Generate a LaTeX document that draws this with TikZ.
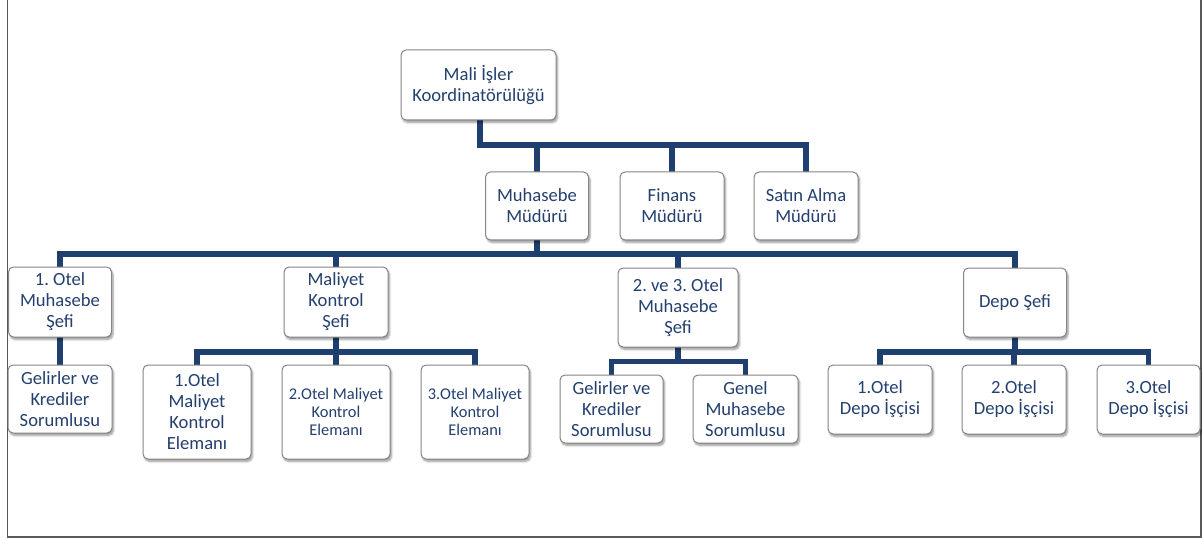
\documentclass[tikz,border=0pt]{standalone}
\usepackage{fontspec}
\setmainfont{Carlito}
\usetikzlibrary{shadows,shadows.blur,backgrounds}
\definecolor{navy}{HTML}{1F3F6E}
\definecolor{txt}{HTML}{24406F}
\definecolor{boxline}{HTML}{858585}
\frenchspacing
\begin{document}
\begin{tikzpicture}[x=1pt,y=-1pt,
  box/.style={draw=boxline, line width=1pt, fill=white, rounded corners=5pt,
    align=center, text=txt, font=\fontsize{18.6}{21}\selectfont, inner sep=0pt,
    blur shadow={shadow xshift=1.5pt, shadow yshift=-2.5pt, shadow blur steps=6, shadow opacity=40}},
  small/.style={font=\fontsize{16.4}{18}\selectfont},
  conn/.style={draw=navy, line width=5.5pt, line cap=rect, line join=miter}]
\useasboundingbox (0,0) rectangle (1202,540);
\draw[line width=1.5pt, draw=black!65] (7.5,0) -- (7.5,537) -- (1200.8,537) -- (1200.8,0);

% level 0
\node[box, minimum width=155pt, minimum height=70pt] (mali) at (478.5,85) {Mali İşler\\Koordinatörülüğü};
% level 1
\node[box, minimum width=103pt, minimum height=68pt] (muh) at (537,206) {Muhasebe\\Müdürü};
\node[box, minimum width=104pt, minimum height=68pt] (fin) at (672,206) {Finans\\Müdürü};
\node[box, minimum width=104pt, minimum height=68pt] (satin) at (806,206) {Satın Alma\\Müdürü};
% level 2
\node[box, minimum width=103pt, minimum height=70pt] (otel1) at (60,302) {1. Otel\\Muhasebe\\Şefi};
\node[box, minimum width=104pt, minimum height=70pt] (maliyet) at (336,302) {Maliyet\\Kontrol\\Şefi};
\node[box, minimum width=120pt, minimum height=79pt] (ve23) at (678,307.5) {2. ve 3. Otel\\Muhasebe\\Şefi};
\node[box, minimum width=103pt, minimum height=69pt] (depo) at (1015,302.5) {Depo Şefi};
% level 3
\node[box, minimum width=104pt, minimum height=68pt] (gel1) at (60,399) {Gelirler ve\\Krediler\\Sorumlusu};
\node[box, minimum width=108pt, minimum height=94pt] (mk1) at (197,412) {1.Otel\\Maliyet\\Kontrol\\Elemanı};
\node[box, small, minimum width=108pt, minimum height=94pt] (mk2) at (336,412) {2.Otel Maliyet\\Kontrol\\Elemanı};
\node[box, small, minimum width=108pt, minimum height=94pt] (mk3) at (475,412) {3.Otel Maliyet\\Kontrol\\Elemanı};
\node[box, minimum width=103pt, minimum height=68pt] (gel2) at (611.5,409) {Gelirler ve\\Krediler\\Sorumlusu};
\node[box, minimum width=105pt, minimum height=68pt] (genel) at (745.5,409) {Genel\\Muhasebe\\Sorumlusu};
\node[box, minimum width=104pt, minimum height=69pt] (d1) at (880,399.5) {1.Otel\\Depo İşçisi};
\node[box, minimum width=104pt, minimum height=69pt] (d2) at (1014,399.5) {2.Otel\\Depo İşçisi};
\node[box, minimum width=103pt, minimum height=69pt] (d3) at (1148.5,399.5) {3.Otel\\Depo İşçisi};

\begin{scope}[on background layer]
  \coordinate (b1) at (480,145);
  \draw[conn] (mali.south -| b1) -- (b1) -| (satin.north);
  \draw[conn] (b1) -| (muh.north);
  \draw[conn] (b1) -| (fin.north);

  \coordinate (b2) at (537,254);
  \draw[conn] (muh.south) -- (b2);
  \draw[conn] (b2) -| (otel1.north);
  \draw[conn] (b2) -| (maliyet.north);
  \draw[conn] (b2) -| (ve23.north);
  \draw[conn] (b2) -| (depo.north);

  \draw[conn] (otel1.south) -- (gel1.north);

  \coordinate (b3) at (336,352);
  \draw[conn] (maliyet.south) -- (mk2.north);
  \draw[conn] (b3) -| (mk1.north);
  \draw[conn] (b3) -| (mk3.north);

  \coordinate (b4) at (678,361.5);
  \draw[conn] (ve23.south) -- (b4);
  \draw[conn] (b4) -| (gel2.north);
  \draw[conn] (b4) -| (genel.north);

  \coordinate (b5) at (1015,352);
  \draw[conn] (depo.south) -- (b5);
  \draw[conn] (b5) -| (d1.north);
  \draw[conn] (b5) -| (d2.north);
  \draw[conn] (b5) -| (d3.north);
\end{scope}
\end{tikzpicture}
\end{document}
